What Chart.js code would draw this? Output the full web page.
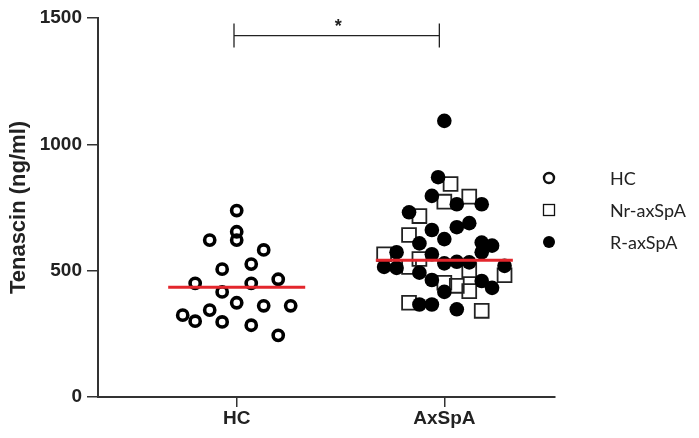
<!DOCTYPE html>
<html>
<head>
<meta charset="utf-8">
<script src="https://cdn.jsdelivr.net/npm/chart.js@4.4.1/dist/chart.umd.min.js"></script>
<style>
  body { margin: 0; background: #fff; }
  #wrap { width: 699px; height: 438px; }
</style>
</head>
<body>
<div id="wrap"><canvas id="chart" width="699" height="438"></canvas></div>
<script>
// group names on the x axis (placed at x = 1 and x = 2)
const categories = ['HC', 'AxSpA'];
const yTicks = [0, 500, 1000, 1500];

// HC, open circles (x = jittered group position, y = ng/ml)
const hcX = [1.00, 1.00, 1.00, 0.87, 1.13, 1.07, 0.93, 0.80, 1.07, 1.20,
             0.93, 1.00, 1.13, 1.26, 0.87, 0.74, 0.80, 0.93, 1.07, 1.20];
const hcY = [738, 654, 621, 621, 582, 526, 506, 450, 450, 466,
             416, 373, 361, 361, 344, 324, 300, 297, 284, 244];

// Nr-axSpA, open squares
const nrX = [2.03, 2.00, 2.12, 1.88, 1.83, 1.71, 1.88, 1.83, 2.29, 2.12,
             2.00, 2.06, 2.12, 1.83, 2.18];
const nrY = [843, 773, 793, 716, 641, 565, 546, 515, 482, 502,
             452, 440, 419, 373, 341];

// R-axSpA, filled circles
const rX = [2.00, 1.97, 1.94, 2.06, 2.18, 1.83, 1.94, 2.06, 2.12, 2.00,
            1.88, 2.18, 2.23, 1.77, 1.94, 2.18, 1.71, 1.77, 2.00, 2.06,
            2.12, 2.29, 1.88, 1.94, 2.18, 2.23, 2.00, 1.88, 1.94, 2.06];
const rY = [1093, 870, 796, 763, 763, 731, 661, 672, 688, 625,
            608, 611, 599, 573, 565, 573, 515, 511, 529, 535,
            533, 519, 492, 463, 459, 432, 416, 366, 366, 347];

// median lines: [x start, x end], value
const hcMedianX = [0.67, 1.33];
const hcMedian = 434;
const axMedianX = [1.67, 2.33];
const axMedian = 541;

// significance bracket between the groups
const bracketX = [0.987, 1.976];
const bracketY = [1383, 1430, 1478];
const sigLabel = '*';
const sigPos = [1.489, 1476];

const legendNames = ['HC', 'Nr-axSpA', 'R-axSpA'];

function pts(xs, ys) {
    return xs.map((x, i) => ({ x: x, y: ys[i] }));
}

const bracketData = [
    { x: bracketX[0], y: bracketY[2] }, { x: bracketX[0], y: bracketY[0] },
    { x: bracketX[0], y: bracketY[1] }, { x: bracketX[1], y: bracketY[1] },
    { x: bracketX[1], y: bracketY[2] }, { x: bracketX[1], y: bracketY[0] }
];

const AXIS = '#333';
const FONT = "'Liberation Sans', Arial, sans-serif";

// asterisk + legend on the right
const extras = {
    id: 'extras',
    afterDraw(chart) {
        const ctx = chart.ctx;
        const xs = chart.scales.x, ys = chart.scales.y;
        ctx.save();
        ctx.fillStyle = '#222';
        ctx.font = 'bold 18px ' + FONT;
        ctx.textAlign = 'center';
        ctx.textBaseline = 'middle';
        ctx.fillText(sigLabel, xs.getPixelForValue(sigPos[0]), ys.getPixelForValue(sigPos[1]) + 3);

        const lx = 549, tx = 610, rows = [178, 210, 242];
        ctx.strokeStyle = '#111';
        ctx.lineWidth = 2.4;
        ctx.beginPath();
        ctx.arc(lx, rows[0], 5, 0, Math.PI * 2);
        ctx.stroke();
        ctx.lineWidth = 1.3;
        ctx.strokeRect(lx - 5.5, rows[1] - 5.5, 11, 11);
        ctx.fillStyle = '#000';
        ctx.beginPath();
        ctx.arc(lx, rows[2], 6, 0, Math.PI * 2);
        ctx.fill();

        ctx.fillStyle = '#222';
        ctx.font = "18px Lato, 'Open Sans', sans-serif";
        ctx.textAlign = 'left';
        legendNames.forEach((name, i) => ctx.fillText(name, tx, rows[i] + 1));
        ctx.restore();
    }
};

new Chart(document.getElementById('chart'), {
    type: 'scatter',
    data: {
        datasets: [
            {
                label: 'HC median', data: [{ x: hcMedianX[0], y: hcMedian }, { x: hcMedianX[1], y: hcMedian }],
                showLine: true, borderColor: '#e3262c', borderWidth: 3, pointRadius: 0, order: 0
            },
            {
                label: 'AxSpA median', data: [{ x: axMedianX[0], y: axMedian }, { x: axMedianX[1], y: axMedian }],
                showLine: true, borderColor: '#e3262c', borderWidth: 3, pointRadius: 0, order: 0
            },
            {
                label: 'bracket', data: bracketData, showLine: true,
                borderColor: '#222', borderWidth: 1.3, pointRadius: 0, order: 0
            },
            {
                label: 'R-axSpA', data: pts(rX, rY), pointStyle: 'circle',
                pointRadius: 7.3, borderWidth: 0, backgroundColor: '#000', order: 1
            },
            {
                label: 'Nr-axSpA', data: pts(nrX, nrY), pointStyle: 'rect',
                pointRadius: 9.8, borderWidth: 1.8, borderColor: '#222',
                backgroundColor: 'rgba(0,0,0,0)', order: 2
            },
            {
                label: 'HC', data: pts(hcX, hcY), pointStyle: 'circle',
                pointRadius: 5.1, borderWidth: 3.6, borderColor: '#000',
                backgroundColor: 'rgba(0,0,0,0)', order: 3
            }
        ]
    },
    options: {
        responsive: false,
        animation: false,
        layout: { padding: { top: 18, right: 144, left: 0, bottom: 0 } },
        plugins: { legend: { display: false }, tooltip: { enabled: false } },
        scales: {
            x: {
                type: 'linear',
                min: 0.332,
                max: 2.533,
                afterBuildTicks: (s) => { s.ticks = [{ value: 1 }, { value: 2 }]; },
                afterFit: (s) => { s.height = 41; },
                ticks: {
                    callback: (v) => categories[v - 1],
                    font: { family: FONT, size: 19, weight: 'bold' },
                    color: '#222',
                    padding: 0
                },
                grid: { drawOnChartArea: false, tickLength: 10, color: AXIS, lineWidth: 1.5 },
                border: { color: AXIS, width: 2 }
            },
            y: {
                min: yTicks[0],
                max: yTicks[yTicks.length - 1],
                afterBuildTicks: (s) => { s.ticks = yTicks.map(v => ({ value: v })); },
                afterFit: (s) => { s.width = 98; },
                ticks: {
                    callback: (v) => String(v),
                    font: { family: FONT, size: 19, weight: 'bold' },
                    color: '#222',
                    padding: 5
                },
                grid: { drawOnChartArea: false, tickLength: 11, color: AXIS, lineWidth: 1.5 },
                border: { color: AXIS, width: 2 },
                title: {
                    display: true,
                    text: 'Tenascin (ng/ml)',
                    font: { family: FONT, size: 22, weight: 'bold' },
                    color: '#222',
                    padding: { top: 6, bottom: 0 }
                }
            }
        }
    },
    plugins: [extras]
});
</script>
</body>
</html>
